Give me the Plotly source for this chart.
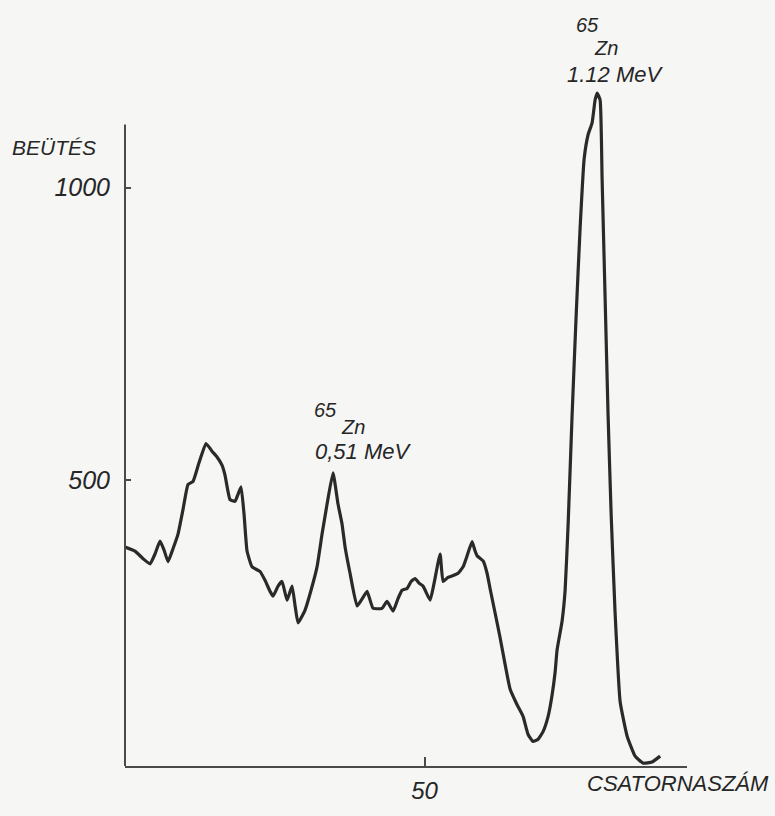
import plotly.graph_objects as go

# ---- data (channel number vs counts) ----
channels = [0.0, 1.67, 3.01, 4.17, 5.01, 5.84, 6.51, 7.18, 8.01, 8.85, 9.68, 10.52,
            11.35, 12.35, 13.52, 14.52, 15.36, 16.19, 16.69, 17.53, 18.36, 18.86,
            19.37, 19.87, 20.37, 21.20, 22.54, 23.37, 24.21, 24.71, 25.54, 26.21,
            27.05, 27.88, 28.38, 28.88, 30.05, 31.05, 32.05, 32.89, 33.72, 34.72,
            35.56, 36.23, 36.73, 37.56, 38.73, 39.57, 40.40, 41.40, 42.90, 43.74,
            44.74, 45.58, 46.24, 47.08, 47.75, 48.41, 49.08, 49.75, 50.92, 51.59,
            52.59, 53.09, 53.92, 54.76, 55.59, 56.43, 57.10, 57.93, 58.43, 58.76,
            59.77, 60.43, 60.93, 61.77, 62.60, 63.44, 64.27, 65.44, 66.44, 67.28,
            68.11, 68.95, 69.78, 70.62, 71.29, 71.79, 72.12, 72.95, 73.46, 73.96,
            74.62, 75.29, 75.96, 76.63, 77.30, 77.96, 78.46, 78.80, 79.30, 79.63,
            80.13, 80.63, 81.14, 81.80, 82.64, 83.81, 85.14, 86.48, 87.98, 89.32]
counts = [385, 378, 365, 356, 373, 395, 380, 360, 382, 407, 449, 492,
          497, 529, 562, 549, 539, 525, 508, 466, 463, 475,
          488, 441, 378, 351, 343, 328, 309, 301, 318, 326,
          294, 318, 285, 255, 277, 311, 351, 407, 458, 512,
          458, 424, 385, 340, 284, 296, 309, 280, 280, 292,
          275, 297, 311, 314, 326, 331, 323, 318, 294, 323,
          373, 326, 333, 336, 340, 351, 370, 394, 378, 370,
          361, 340, 314, 272, 230, 184, 142, 115, 95, 64,
          52, 56, 69, 95, 132, 171, 209, 258, 311, 424,
          610, 779, 931, 1049, 1091, 1111, 1150, 1162, 1150, 1015,
          812, 610, 441, 272, 120, 61, 27, 15, 17, 27]

y_tick_vals = [500, 1000]
y_tick_text = ["500", "1000"]
x_tick_vals = [50]
x_tick_text = ["50"]

y_label = "BEÜTÉS"
x_label = "CSATORNASZÁM"
peak_labels = [("65", "Zn", "0,51 MeV"), ("65", "Zn", "1.12 MeV")]

# ---- layout geometry ----
W, H = 775, 816
L, R, T, B = 125, 88, 85, 41
PW, PH = W - L - R, H - T - B


def pp(px, py):
    return (px - L) / PW, (H - B - py) / PH


INK = "#262626"
FONT = "Liberation Sans, Arial, sans-serif"

fig = go.Figure()
fig.add_trace(go.Scatter(
    x=channels, y=counts, mode="lines",
    line=dict(color="#2a2a2a", width=3.2, shape="spline", smoothing=0.4),
    hoverinfo="skip", showlegend=False,
))

annotations = []


def add_text(text, px, py, size):
    x, y = pp(px, py)
    annotations.append(dict(
        text=text, x=x, y=y, xref="paper", yref="paper",
        xanchor="center", yanchor="middle", showarrow=False,
        font=dict(family=FONT, size=size, color=INK, style="italic"),
    ))


add_text(y_label, 54, 148, 21)
add_text(x_label, 678, 793, 22)

# peak at 0.51 MeV
add_text(peak_labels[0][0], 325, 414, 20)
add_text(peak_labels[0][1], 353, 432, 20)
add_text(peak_labels[0][2], 363, 456, 22)
# peak at 1.12 MeV
add_text(peak_labels[1][0], 587, 24, 20)
add_text(peak_labels[1][1], 606, 48, 20)
add_text(peak_labels[1][2], 615, 74, 22)

x0, y_top = pp(125, 125)
fig.add_shape(type="line", xref="paper", yref="paper",
              x0=0, x1=0, y0=0, y1=y_top,
              line=dict(color="#4a4a4a", width=2))

fig.update_layout(
    width=W, height=H,
    margin=dict(l=L, r=R, t=T, b=B, pad=0),
    paper_bgcolor="#f6f6f5", plot_bgcolor="#f6f6f5",
    showlegend=False,
    annotations=annotations,
    xaxis=dict(
        range=[0, 93.8], showgrid=False, zeroline=False,
        showline=True, linecolor="#4a4a4a", linewidth=2,
        tickmode="array", tickvals=x_tick_vals, ticktext=x_tick_text,
        ticks="inside", ticklen=9, tickwidth=2, tickcolor="#4a4a4a",
        tickfont=dict(family=FONT, size=24, color=INK, style="italic"),
        ticklabelstandoff=2,
    ),
    yaxis=dict(
        range=[10.1, 1175.7], showgrid=False, zeroline=False,
        showline=False,
        tickmode="array", tickvals=y_tick_vals, ticktext=y_tick_text,
        ticks="inside", ticklen=6, tickwidth=2, tickcolor="#4a4a4a",
        tickfont=dict(family=FONT, size=25, color=INK, style="italic"),
        ticklabelstandoff=14,
    ),
)

fig.write_html("out.html")
